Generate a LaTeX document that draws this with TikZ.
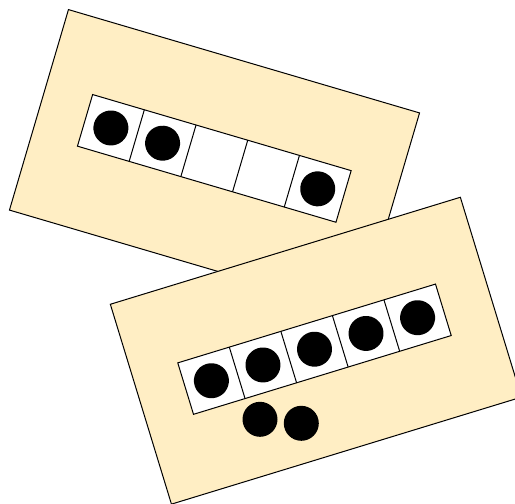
\documentclass[tikz,border=0pt]{standalone}
\usepackage{tikz}
\definecolor{cardfill}{RGB}{255,238,196}

\begin{document}
\begin{tikzpicture}[x=1pt,y=-1pt,line width=1pt,
    card/.style={draw=black,fill=cardfill},
    frame/.style={draw=black,fill=white},
    dot/.style={fill=black}]
  \useasboundingbox (0,0) rectangle (515,504);
  % first card: 3 counters
  \begin{scope}[shift={(214.5,161.5)},rotate=-16.4]
    \draw[card] (-183,-104.5) rectangle (183,104.5);
  \end{scope}
  \begin{scope}[shift={(214.3,158.4)},rotate=-16.4]
    \draw[frame] (-134.75,-26.9) rectangle (134.75,26.9);
    \foreach \i in {1,...,4}
      \draw ({-134.75+53.9*\i},-26.9) -- ({-134.75+53.9*\i},26.9);
    \foreach \i in {0,1,4}
      \fill[dot] ({-107.8+53.9*\i},0) circle (17.5);
  \end{scope}
  % second card: 5 counters and 2 more
  \begin{scope}[shift={(315.9,350.7)},rotate=17]
    \draw[card] (-183,-104.5) rectangle (183,104.5);
  \end{scope}
  \begin{scope}[shift={(314.5,349.2)},rotate=17]
    \draw[frame] (-134.75,-26.9) rectangle (134.75,26.9);
    \foreach \i in {1,...,4}
      \draw ({-134.75+53.9*\i},-26.9) -- ({-134.75+53.9*\i},26.9);
    \foreach \i in {0,...,4}
      \fill[dot] ({-107.8+53.9*\i},0) circle (17.5);
  \end{scope}
  \fill[dot] (260,419.3) circle (17.5);
  \fill[dot] (301.3,423.3) circle (17.5);
\end{tikzpicture}
\end{document}
